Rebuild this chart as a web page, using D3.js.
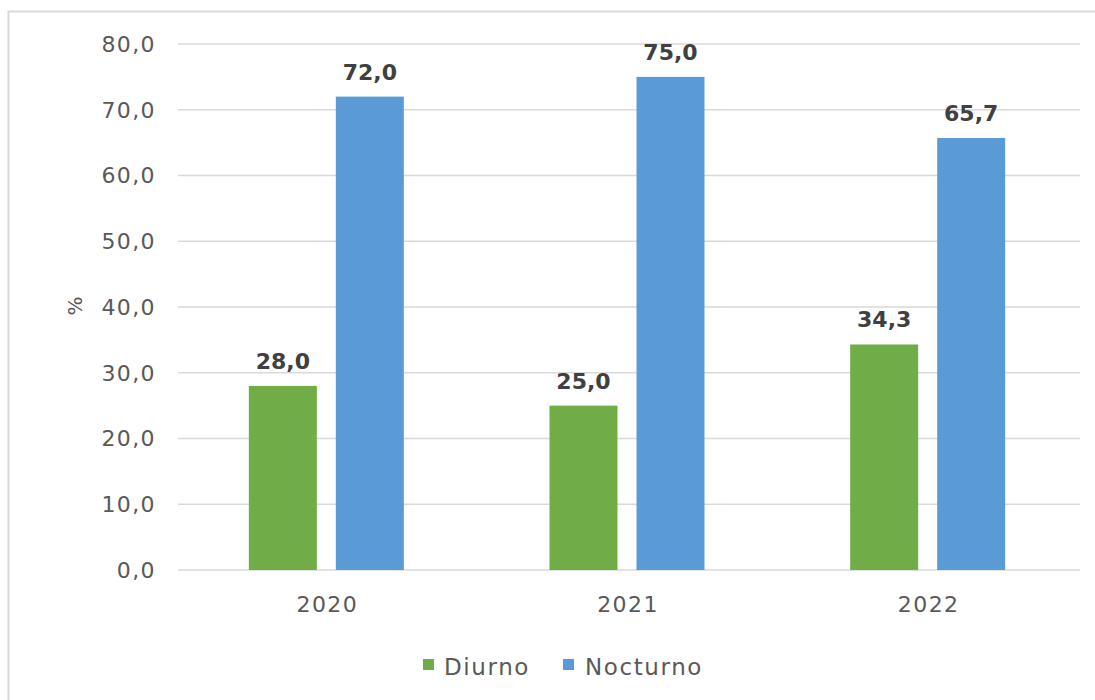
<!DOCTYPE html>
<html><head><meta charset="utf-8">
<script src="https://cdn.jsdelivr.net/npm/d3@7"></script>
<style>
body{margin:0;background:#fff;}
svg{display:block;}
text{font-family:"DejaVu Sans",sans-serif;}
</style></head>
<body>
<svg id="c" width="1095" height="700"></svg>
<script>
const categories = ["2020","2021","2022"];
const seriesNames = ["Diurno","Nocturno"];
const diurno = [28.0, 25.0, 34.3];
const nocturno = [72.0, 75.0, 65.7];
const yTicks = [0,10,20,30,40,50,60,70,80];
const colors = ["#70AD47","#5B9BD5"];

(function(){
const svg = d3.select("#c");
svg.append("rect").attr("x",8.5).attr("y",11.5).attr("width",1100).attr("height",700)
  .attr("fill","#fff").attr("stroke","#d9d9d9").attr("stroke-width",2);

const pl=178, pr=1080, pt=44, pb=570;
const x = d3.scaleBand().domain(categories).range([176,1078]);
const y = d3.scaleLinear().domain([0,80]).range([pb,pt]);
const fmt = v => d3.format(".1f")(v).replace(".",",");

const g = svg.append("g");
g.selectAll("line.grid").data(yTicks).join("line")
  .attr("x1",pl).attr("x2",pr).attr("y1",d=>y(d)).attr("y2",d=>y(d))
  .attr("stroke","#d9d9d9").attr("stroke-width",1.5);
g.selectAll("text.yt").data(yTicks).join("text")
  .attr("x",156).attr("y",d=>y(d)).attr("dy","0.36em").attr("text-anchor","end")
  .attr("font-size",22).attr("letter-spacing","1.4px").attr("fill","#595959").text(d=>fmt(d));
svg.append("text").attr("transform","translate(82,306) rotate(-90)")
  .attr("text-anchor","middle").attr("font-size",20).attr("fill","#595959").text("%");

const data = [diurno, nocturno];
const offs = [-43.5, 43.5];
const bw = 68;
data.forEach((vals,si)=>{
  const cx = i=>x(categories[i])+x.bandwidth()/2+offs[si];
  svg.append("g").selectAll("rect").data(vals).join("rect")
    .attr("x",(d,i)=>cx(i)-bw/2).attr("width",bw)
    .attr("y",d=>y(d)).attr("height",d=>y(0)-y(d)).attr("fill",colors[si]);
  svg.append("g").selectAll("text").data(vals).join("text")
    .attr("x",(d,i)=>cx(i)).attr("y",d=>y(d)-17).attr("text-anchor","middle")
    .attr("font-size",22).attr("font-weight","bold").attr("fill","#404040").text(d=>fmt(d));
});
svg.append("g").selectAll("text").data(categories).join("text")
  .attr("x",d=>x(d)+x.bandwidth()/2+1).attr("y",612).attr("text-anchor","middle")
  .attr("font-size",22).attr("letter-spacing","1.4px").attr("fill","#595959").text(d=>d);

const leg = [{n:seriesNames[0],x:423,tx:444},{n:seriesNames[1],x:563,tx:585}];
leg.forEach((l,i)=>{
  svg.append("rect").attr("x",l.x).attr("y",659).attr("width",11).attr("height",11).attr("fill",colors[i]);
  svg.append("text").attr("x",l.tx).attr("y",675).attr("font-size",23).attr("letter-spacing","1.6px").attr("fill","#595959").text(l.n);
});
})();
</script>
</body></html>
